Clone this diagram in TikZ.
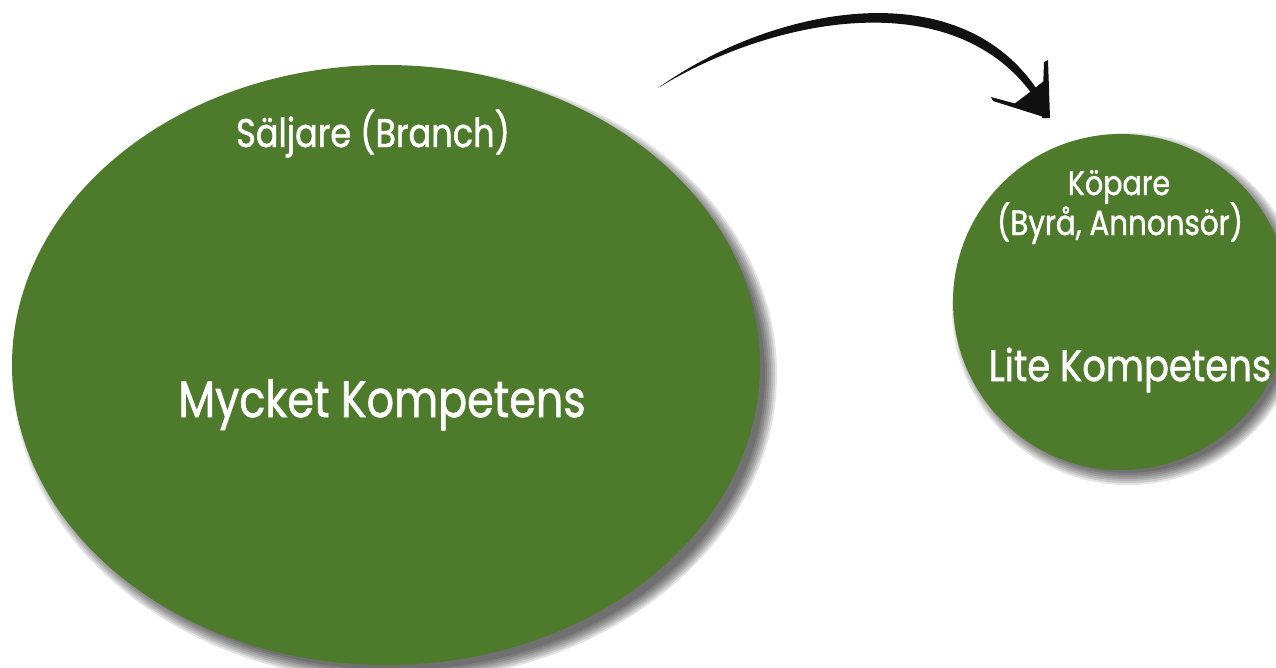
\documentclass[tikz,border=0pt]{standalone}
\usepackage{fontspec}
\setmainfont{Poppins}[FakeStretch=0.84,FakeBold=1.2]
\usetikzlibrary{shapes.geometric}
\definecolor{leaf}{HTML}{4E7A2B}
\definecolor{ink}{HTML}{111111}
\begin{document}
\begin{tikzpicture}[x=1pt,y=-1pt,
  blob/.style={fill=leaf, draw=none, inner sep=0pt},
  lbl/.style={text=white, inner sep=0pt, anchor=base},
  shade/.style={fill=black, opacity=0.11},
  brush/.style={fill=ink, draw=none}]
\useasboundingbox (0,0) rectangle (1276,667);
% soft shadows
\foreach \d in {-4,-2,...,8} {
  \fill[shade] (395,374) ellipse [x radius={374+\d}, y radius={300+\d}];
  \fill[shade] (1128,309) circle [radius={168+\d}];
}
% shapes
\node[blob, ellipse, minimum width=748pt, minimum height=600pt] (seller) at (386,365) {};
\node[blob, circle, minimum size=336pt] (buyer) at (1121,302) {};
% texts
\node[lbl, font=\fontsize{40}{48}\selectfont] (sellerlbl) at (373,147) {Säljare (Branch)};
\node[lbl, font=\fontsize{51}{62}\selectfont] (sellercomp) at (382,417) {Mycket Kompetens};
\node[lbl, font=\fontsize{34}{42}\selectfont] (buyerlbl) at (1119,195) {Köpare};
\node[lbl, font=\fontsize{35}{42}\selectfont] (buyersub) at (1120,235) {(Byrå, Annonsör)};
\node[lbl, font=\fontsize{44}{52}\selectfont] (buyercomp) at (1130,381) {Lite Kompetens};
% hand-drawn arrow
\coordinate (arrowstart) at (658,88);
\coordinate (arrowend) at (1047,118);
\fill[brush] (arrowstart) .. controls (770,8) and (955,-30) .. (1036,88)
  -- (1032,94) .. controls (950,-18) and (770,19) .. (arrowstart) -- cycle;
\fill[brush] (991,97) -- (1046,112) -- (arrowend) -- (993,101) -- cycle;
\fill[brush] (1044,62) -- (1048,60) -- (1050,118) -- (1042,118) -- cycle;
\fill[brush] (1030,92) -- (1045,80) -- (arrowend) -- (1014,104) -- cycle;
\end{tikzpicture}
\end{document}
